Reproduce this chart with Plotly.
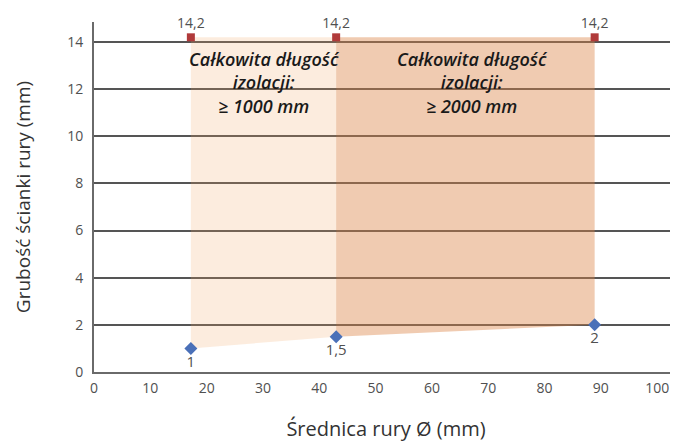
import plotly.graph_objects as go

# data
diameters = [17.2, 43, 88.9]          # pipe diameter (mm)
min_wall = [1, 1.5, 2]                 # minimum wall thickness (mm)
min_wall_labels = ["1", "1,5", "2"]
max_wall = [14.2, 14.2, 14.2]          # maximum wall thickness (mm)
max_wall_labels = ["14,2", "14,2", "14,2"]
zone_texts = ["Całkowita długość<br>izolacji:<br>≥ 1000 mm",
              "Całkowita długość<br>izolacji:<br>≥ 2000 mm"]
zone_colors = ["rgba(240,160,90,0.20)", "rgba(220,130,70,0.42)"]

x_ticks = list(range(0, 101, 10))
y_ticks = list(range(0, 15, 2))

fig = go.Figure()

for i in range(2):
    xs = [diameters[i], diameters[i + 1], diameters[i + 1], diameters[i]]
    ys = [min_wall[i], min_wall[i + 1], max_wall[i + 1], max_wall[i]]
    fig.add_trace(go.Scatter(x=xs, y=ys, fill="toself", mode="none",
                             fillcolor=zone_colors[i], hoverinfo="skip",
                             showlegend=False))

fig.add_trace(go.Scatter(x=diameters, y=max_wall, mode="markers+text",
                         text=max_wall_labels, textposition="top center",
                         textfont=dict(size=14, color="#505050", family="Open Sans"),
                         marker=dict(symbol="square", size=8, color="#b03a3a"),
                         cliponaxis=False, showlegend=False))
fig.add_trace(go.Scatter(x=diameters, y=min_wall, mode="markers+text",
                         text=min_wall_labels, textposition="bottom center",
                         textfont=dict(size=15, color="#505050", family="Open Sans"),
                         marker=dict(symbol="diamond", size=10, color="#4a70b8"),
                         cliponaxis=False, showlegend=False))

zone_x = [30.3, 67.2]
for zx, t in zip(zone_x, zone_texts):
    fig.add_annotation(x=zx, y=12.3, text=t, showarrow=False,
                       font=dict(size=18, color="#1a1a1a", family="Open Sans",
                                 style="italic", weight=600),
                       align="center")

# page body has an 8px margin, so the figure is 8px smaller than the window
fig.update_layout(
    width=670, height=435,
    margin=dict(l=86, r=0, t=14, b=71),
    plot_bgcolor="white", paper_bgcolor="white",
    font=dict(family="Open Sans", color="#505050"),
)
fig.update_xaxes(range=[0, 103.7], tickvals=x_ticks, showgrid=False,
                 showline=True, linecolor="#6a6a6a", linewidth=2,
                 ticks="", tickfont=dict(size=14, color="#505050"),
                 ticklabelstandoff=2, zeroline=False, automargin=False,
                 title=dict(text="Średnica rury Ø (mm)",
                            font=dict(size=20, color="#333333"), standoff=26))
fig.update_yaxes(range=[0, 14.85], tickvals=y_ticks, showgrid=True,
                 gridcolor="#555555", gridwidth=2,
                 showline=True, linecolor="#6a6a6a", linewidth=2,
                 ticks="", tickfont=dict(size=14, color="#505050"),
                 ticklabelstandoff=6, zeroline=False, automargin=False,
                 title=dict(text="Grubość ścianki rury (mm)",
                            font=dict(size=19, color="#333333"), standoff=32))

fig.write_html("out.html")
